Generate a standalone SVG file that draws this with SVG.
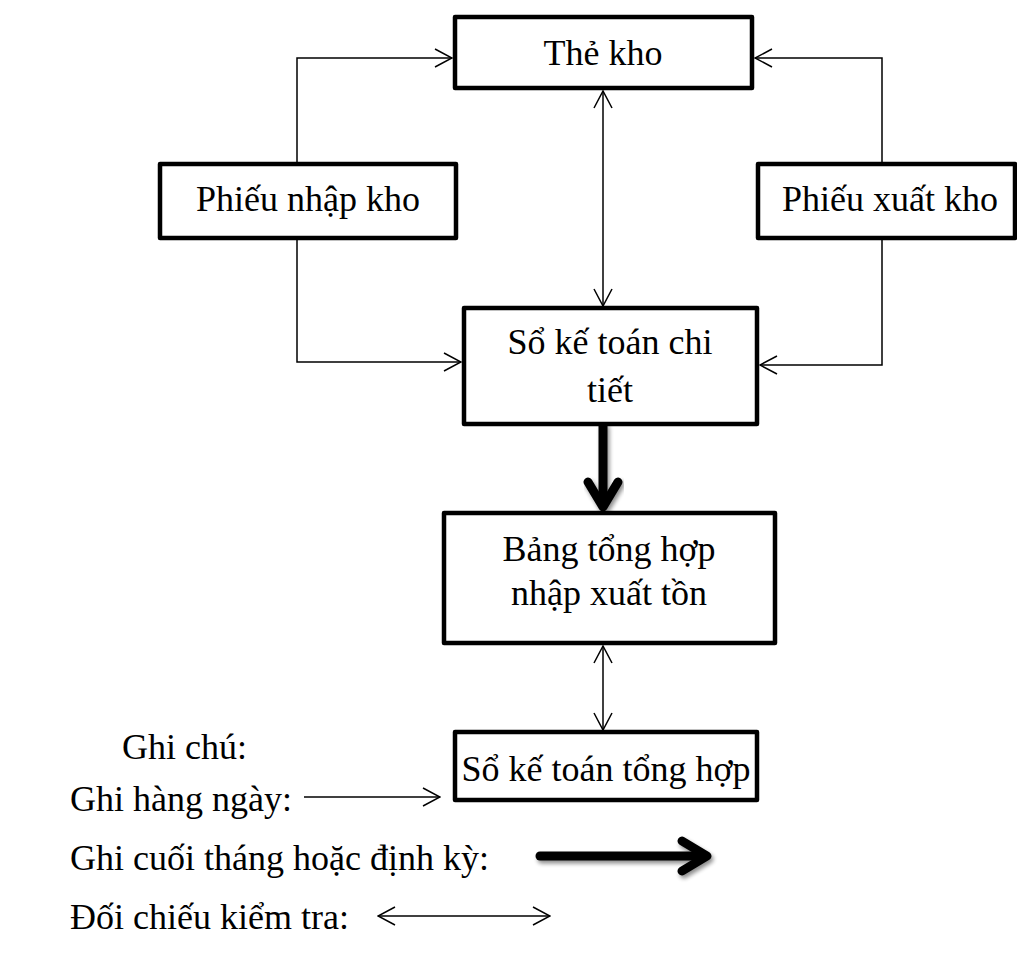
<svg xmlns="http://www.w3.org/2000/svg" width="1017" height="964" viewBox="0 0 1017 964">
  <defs>
    <style>
      .box { fill: #fff; stroke: #000; stroke-width: 4.5; stroke-linejoin: round; }
      .lbl { font-family: "Liberation Serif", "Times New Roman", serif; font-size: 36px; fill: #000; }
      .mid { text-anchor: middle; }
      .thin { fill: none; stroke: #000; stroke-width: 1.5; }
      .bold { fill: none; stroke: #000; stroke-width: 9; stroke-linecap: round; stroke-linejoin: round; }
    </style>
    <marker id="open" viewBox="0 0 20 20" refX="19" refY="10" markerWidth="20" markerHeight="20" markerUnits="userSpaceOnUse" orient="auto-start-reverse">
      <path d="M2,1 L19,10 L2,19" fill="none" stroke="#000" stroke-width="1.5"/>
    </marker>
    <filter id="shade" x="-20%" y="-40%" width="140%" height="180%">
      <feGaussianBlur in="SourceAlpha" stdDeviation="2"/>
      <feOffset dx="2" dy="3" result="b"/>
      <feComponentTransfer><feFuncA type="linear" slope="0.45"/></feComponentTransfer>
      <feMerge><feMergeNode/><feMergeNode in="SourceGraphic"/></feMerge>
    </filter>
  </defs>

  <rect width="1017" height="964" fill="#fff"/>

  <!-- connectors -->
  <g id="connectors">
    <!-- Phiếu nhập kho -> Thẻ kho / Sổ kế toán chi tiết -->
    <path class="thin" d="M297,163 V58 H452" marker-end="url(#open)"/>
    <path class="thin" d="M297,238 V362 H461" marker-end="url(#open)"/>
    <!-- Phiếu xuất kho -> Thẻ kho / Sổ kế toán chi tiết -->
    <path class="thin" d="M882,163 V58 H755" marker-end="url(#open)"/>
    <path class="thin" d="M882,238 V365 H760" marker-end="url(#open)"/>
    <!-- Thẻ kho <-> Sổ kế toán chi tiết -->
    <path class="thin" d="M603,91 V306" marker-start="url(#open)" marker-end="url(#open)"/>
    <!-- Sổ kế toán chi tiết => Bảng tổng hợp -->
    <g filter="url(#shade)">
      <path class="bold" d="M603,426 V505"/>
      <path class="bold" d="M588,482 L603,507 L618,482"/>
    </g>
    <!-- Bảng tổng hợp <-> Sổ kế toán tổng hợp -->
    <path class="thin" d="M603,646 V730" marker-start="url(#open)" marker-end="url(#open)"/>
  </g>

  <g id="the-kho">
    <rect class="box" x="455" y="17" width="297" height="71"/>
    <text class="lbl mid" x="603" y="65">Thẻ kho</text>
  </g>

  <g id="phieu-nhap-kho">
    <rect class="box" x="160" y="164" width="296" height="74"/>
    <text class="lbl mid" x="308" y="211">Phiếu nhập kho</text>
  </g>

  <g id="phieu-xuat-kho">
    <rect class="box" x="758" y="164" width="257" height="74"/>
    <text class="lbl mid" x="890" y="211">Phiếu xuất kho</text>
  </g>

  <g id="so-chi-tiet">
    <rect class="box" x="464" y="308" width="293" height="116"/>
    <text class="lbl mid" x="610" y="354">Sổ kế toán chi</text>
    <text class="lbl mid" x="610" y="402">tiết</text>
  </g>

  <g id="bang-tong-hop">
    <rect class="box" x="444" y="513" width="331" height="130"/>
    <text class="lbl mid" x="609" y="561">Bảng tổng hợp</text>
    <text class="lbl mid" x="609" y="605">nhập xuất tồn</text>
  </g>

  <g id="so-tong-hop">
    <rect class="box" x="455" y="732" width="302" height="68"/>
    <text class="lbl mid" x="606" y="781">Sổ kế toán tổng hợp</text>
  </g>

  <!-- legend -->
  <g id="legend">
    <text class="lbl" x="122" y="759">Ghi chú:</text>
    <text class="lbl" x="70" y="811">Ghi hàng ngày:</text>
    <path class="thin" d="M304,797 H440" marker-end="url(#open)"/>
    <text class="lbl" x="70" y="870">Ghi cuối tháng hoặc định kỳ:</text>
    <g filter="url(#shade)">
      <path class="bold" d="M540,856 H704"/>
      <path class="bold" d="M682,841 L707,856 L682,871"/>
    </g>
    <text class="lbl" x="70" y="929">Đối chiếu kiểm tra:</text>
    <path class="thin" d="M378,916 H550" marker-start="url(#open)" marker-end="url(#open)"/>
  </g>
</svg>
